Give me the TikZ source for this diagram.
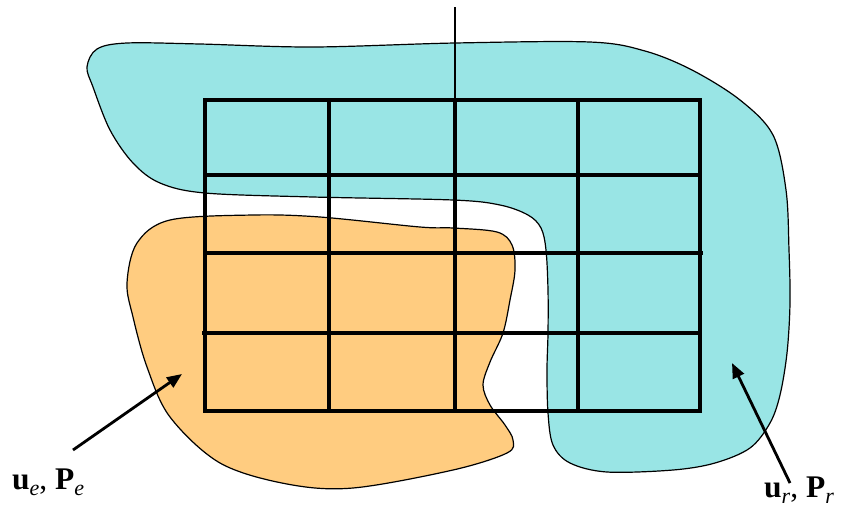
\documentclass[tikz,border=0pt]{standalone}
\usepackage{fontspec}
\setmainfont{Liberation Serif}
\usetikzlibrary{arrows.meta}
\definecolor{regcyan}{RGB}{153,229,229}
\definecolor{regorange}{RGB}{255,204,128}
\newcommand{\lbl}[2]{\textbf{#1}\raisebox{-0.22em}{\fontsize{22}{22}\selectfont\itshape #2}}
\begin{document}
\begin{tikzpicture}[x=1pt,y=-1pt,
  region/.style={draw=black,line width=1.2pt,line join=round},
  gridline/.style={line width=4.3pt},
  pointer/.style={line width=2.8pt,-{Triangle[length=15pt,width=12pt]}},
  lab/.style={anchor=base west,inner sep=0pt,font=\fontsize{31.5}{31.5}\selectfont}]
\useasboundingbox (0,0) rectangle (842,515);
% cyan region
\fill[regcyan] plot[smooth cycle,tension=0.55] coordinates {
 (87,67) (97,49) (127,43) (200,44) (313,47) (455,43) (590,42) (645,51) (692,70)
 (740,100) (773,135) (786,190) (789,250) (790,303) (787,353) (780,395) (770,423)
 (750,448) (715,463) (673,470) (607,472) (570,463) (553,445) (548,413) (547,370)
 (548,333) (548,290) (546,250) (541,228) (528,215) (500,205) (453,200) (313,197)
 (205,193) (160,183) (133,163) (110,130) (93,87)};
\draw[region] plot[smooth cycle,tension=0.55] coordinates {
 (87,67) (97,49) (127,43) (200,44) (313,47) (455,43) (590,42) (645,51) (692,70)
 (740,100) (773,135) (786,190) (789,250) (790,303) (787,353) (780,395) (770,423)
 (750,448) (715,463) (673,470) (607,472) (570,463) (553,445) (548,413) (547,370)
 (548,333) (548,290) (546,250) (541,228) (528,215) (500,205) (453,200) (313,197)
 (205,193) (160,183) (133,163) (110,130) (93,87)};
% orange region
\fill[regorange] plot[smooth cycle,tension=0.55] coordinates {
 (127,283) (137,243) (170,220) (253,215) (320,217) (420,227) (453,228) (497,232)
 (512,245) (515,270) (510,300) (503,333) (490,362) (483,385) (490,405) (505,425)
 (513,440) (507,453) (453,470) (353,488) (287,484) (220,463) (170,417) (147,367)
 (133,317)};
\draw[region] plot[smooth cycle,tension=0.55] coordinates {
 (127,283) (137,243) (170,220) (253,215) (320,217) (420,227) (453,228) (497,232)
 (512,245) (515,270) (510,300) (503,333) (490,362) (483,385) (490,405) (505,425)
 (513,440) (507,453) (453,470) (353,488) (287,484) (220,463) (170,417) (147,367)
 (133,317)};
% grid
\draw[gridline] (205,100) -- (205,411);
\draw[gridline] (329,100) -- (329,411);
\draw[gridline] (455,100) -- (455,413);
\draw[gridline] (578,100) -- (578,411);
\draw[gridline] (700,100) -- (700,411);
\draw[gridline,line cap=rect] (205,100) -- (700,100);
\draw[gridline] (205,175) -- (700,175);
\draw[gridline] (205,253) -- (703,253);
\draw[gridline] (202,333) -- (700,333);
\draw[gridline,line cap=rect] (205,411) -- (700,411);
\draw[line width=1.3pt] (455,7) -- (455,100);
% labels and pointers
\node[lab] (le) at (12,489) {\lbl{u}{e}, \lbl{P}{e}};
\node[lab] (lr) at (764,497) {\lbl{u}{r}, \lbl{P}{r}};
\coordinate (ltail) at (73,450);
\coordinate (ltip) at (182,374);
\coordinate (rtail) at (790,483);
\coordinate (rtip) at (732,363);
\draw[pointer] (ltail) -- (ltip);
\draw[pointer] (rtail) -- (rtip);
\end{tikzpicture}
\end{document}
